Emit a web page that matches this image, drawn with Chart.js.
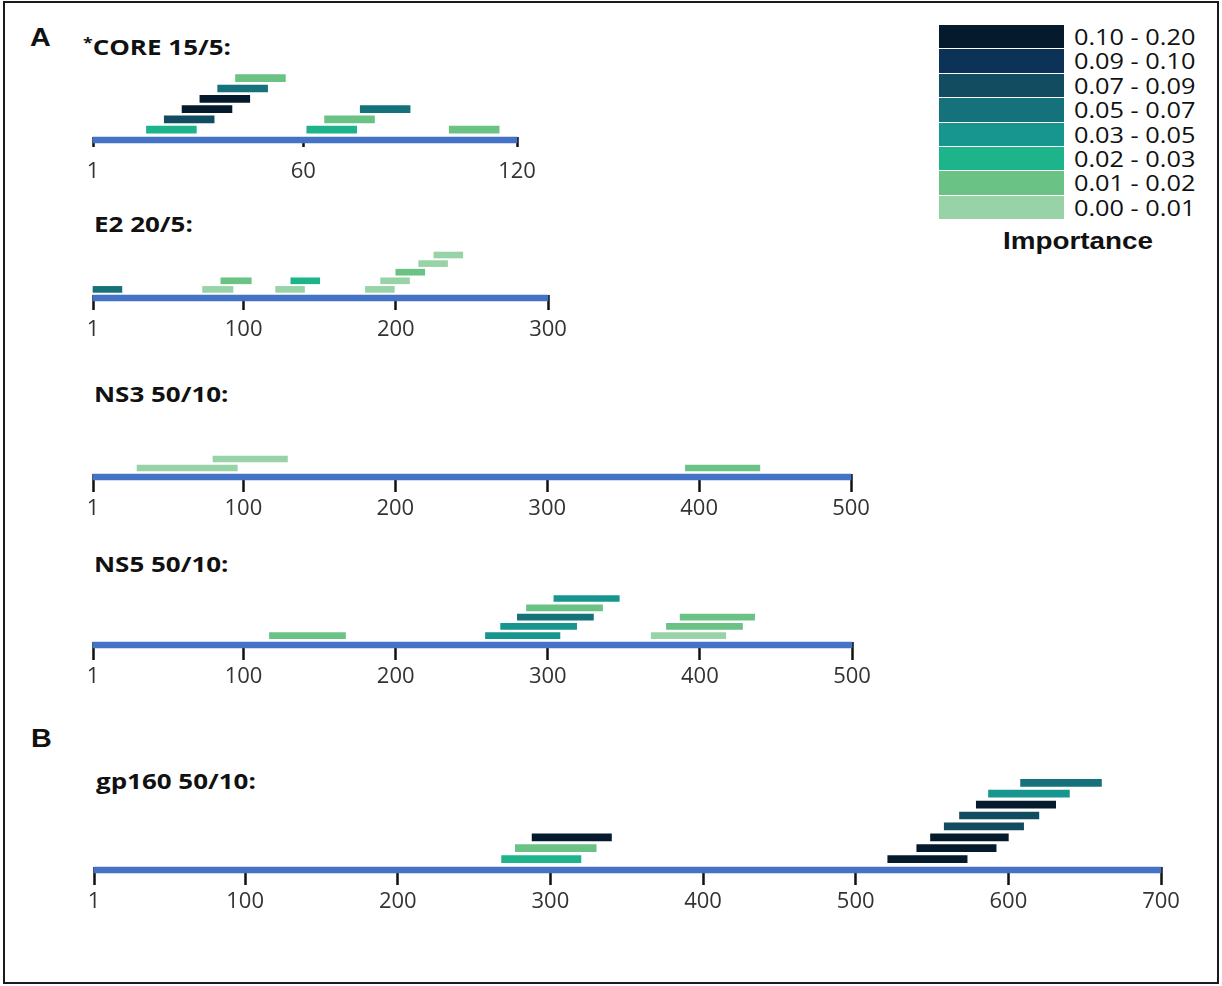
<!DOCTYPE html>
<html>
<head>
<meta charset="utf-8">
<script src="https://cdn.jsdelivr.net/npm/chart.js@4.4.1/dist/chart.umd.min.js"></script>
<style>
  body { margin: 0; background: #fff; }
  #fig { position: relative; width: 1222px; height: 986px; overflow: hidden; }
  #frame { position: absolute; left: 3px; top: 1px; width: 1216px; height: 983px; box-sizing: border-box; border: 2px solid #1a1a1a; }
  .txt { position: absolute; line-height: 1; white-space: nowrap; transform-origin: 0 0; color: #111; }
  .letter { font-family: "Liberation Sans", Arial, sans-serif; font-weight: bold; font-size: 25px; transform: scaleX(1.15); }
  .title { font-family: "Open Sans", sans-serif; font-weight: bold; font-size: 22px; transform: scaleX(1.18); }
  .title .star { font-size: 15px; position: relative; top: -7px; }
  .leg { font-family: "Open Sans", sans-serif; font-size: 22px; transform: scaleX(1.15); }
  .imp { font-family: "Liberation Sans", Arial, sans-serif; font-weight: bold; font-size: 23px; width: 200px; text-align: center; transform-origin: 50% 0; transform: scaleX(1.21); }
  .box { position: absolute; }
  .panel { position: absolute; }
</style>
</head>
<body>
<div id="fig">
  <div id="frame"></div>
</div>
<script>
// importance bins of the colour key (lowest first)
var binEdges = [0.00, 0.01, 0.02, 0.03, 0.05, 0.07, 0.09, 0.10, 0.20];
var binColors = ['#97d3a7', '#6ac284', '#1db38b', '#17958f', '#15727a', '#124c60', '#0c3257', '#061a2d'];

// CORE 15/5
var coreTicks = [1, 60, 120];
var coreWindows = [[16, 30], [61, 75], [101, 115], [21, 35], [66, 80], [26, 40], [76, 90], [31, 45], [36, 50], [41, 55]];
var coreLevels = [0, 0, 0, 1, 1, 2, 2, 3, 4, 5];
var coreImportance = [0.025, 0.025, 0.015, 0.08, 0.015, 0.15, 0.06, 0.15, 0.06, 0.015];

// E2 20/5
var e2Ticks = [1, 100, 200, 300];
var e2Windows = [[1, 20], [73, 93], [121, 140], [180, 199], [85, 105], [131, 150], [190, 209], [200, 219], [215, 234], [225, 244]];
var e2Levels = [0, 0, 0, 0, 1, 1, 1, 2, 3, 4];
var e2Importance = [0.06, 0.005, 0.005, 0.005, 0.015, 0.025, 0.005, 0.015, 0.005, 0.005];

// NS3 50/10
var ns3Ticks = [1, 100, 200, 300, 400, 500];
var ns3Windows = [[30, 96], [391, 440], [80, 129]];
var ns3Levels = [0, 0, 1];
var ns3Importance = [0.005, 0.015, 0.005];

// NS5 50/10
var ns5Ticks = [1, 100, 200, 300, 400, 500];
var ns5Windows = [[117, 167], [259, 308], [368, 417], [269, 319], [378, 428], [280, 330], [387, 436], [286, 336], [304, 347]];
var ns5Levels = [0, 0, 0, 1, 1, 2, 2, 3, 4];
var ns5Importance = [0.015, 0.04, 0.005, 0.04, 0.015, 0.06, 0.015, 0.015, 0.04];

// gp160 50/10
var gpTicks = [1, 100, 200, 300, 400, 500, 600, 700];
var gpWindows = [[268, 320], [277, 330], [288, 340], [521, 573], [540, 592], [549, 600], [558, 610], [568, 620], [579, 631], [587, 640], [608, 661]];
var gpLevels = [0, 1, 2, 0, 1, 2, 3, 4, 5, 6, 7];
var gpImportance = [0.025, 0.015, 0.15, 0.15, 0.15, 0.15, 0.08, 0.08, 0.15, 0.04, 0.06];

var fig = document.getElementById('fig');

function addText(cls, html, left, y) {
  var el = document.createElement('div');
  el.className = 'txt ' + cls;
  el.innerHTML = html;
  el.style.left = left + 'px';
  el.style.top = y + 'px';
  fig.appendChild(el);
  return el;
}

function binColor(v) {
  for (var i = binEdges.length - 2; i >= 0; i--) {
    if (v >= binEdges[i]) return binColors[i];
  }
  return binColors[0];
}

/* panel letters and titles (top = baseline - ascent) */
addText('letter', 'A', 30, 46 - 21);
addText('letter', 'B', 31, 747 - 21);
addText('title', '<span class="star">*</span>CORE 15/5:', 83, 54 - 19.5);
addText('title', 'E2 20/5:', 94, 231 - 19.5);
addText('title', 'NS3 50/10:', 94, 401 - 19.5);
addText('title', 'NS5 50/10:', 94, 571 - 19.5);
addText('title', 'gp160 50/10:', 96, 788 - 19.5);

/* colour key, highest bin on top */
var pitch = 24.375;
for (var k = 0; k < binColors.length; k++) {
  var b = binColors.length - 1 - k;
  var boxTop = 25 + k * pitch;
  var box = document.createElement('div');
  box.className = 'box';
  box.style.left = '939px';
  box.style.top = boxTop + 'px';
  box.style.width = '125px';
  box.style.height = '23.4px';
  box.style.background = binColors[b];
  fig.appendChild(box);
  var label = binEdges[b].toFixed(2) + ' - ' + binEdges[b + 1].toFixed(2);
  addText('leg', label, 1074, boxTop + 11.7 + 7.9 - 19.5);
}
addText('imp', 'Importance', 978, 249 - 19.5);

/* one Chart.js chart per protein */
function makePanel(p) {
  var padX = 40, axisBox = 60;
  var rowsUp = Math.max.apply(null, p.levels) + 2;
  var areaH = Math.round(p.step * rowsUp);
  var chartBottom = p.axisY - 3;
  var wrap = document.createElement('div');
  wrap.className = 'panel';
  wrap.style.left = (p.left - padX) + 'px';
  wrap.style.top = (chartBottom - areaH) + 'px';
  wrap.style.width = (p.right - p.left + 2 * padX) + 'px';
  wrap.style.height = (areaH + axisBox) + 'px';
  var canvas = document.createElement('canvas');
  wrap.appendChild(canvas);
  fig.appendChild(wrap);

  var yMin = 3 / p.step;
  var bars = p.windows.map(function (w, i) { return {x: w, y: p.levels[i] + 1}; });

  new Chart(canvas, {
    type: 'bar',
    data: {
      datasets: [
        { data: [{x: [1, p.length], y: 0}], backgroundColor: '#4472c4', barThickness: 6, grouped: false, clip: false },
        { data: bars, backgroundColor: p.importance.map(binColor), barThickness: p.bar, grouped: false, clip: false }
      ]
    },
    options: {
      indexAxis: 'y',
      responsive: true,
      maintainAspectRatio: false,
      animation: false,
      layout: { padding: { left: padX, right: padX, top: 0, bottom: 0 } },
      plugins: { legend: { display: false }, tooltip: { enabled: false } },
      scales: {
        y: { type: 'linear', display: false, offset: false, min: yMin, max: yMin + areaH / p.step },
        x: {
          type: 'linear', min: 1, max: p.length, bounds: 'data', beginAtZero: false, z: 1,
          afterBuildTicks: function (axis) {
            axis.ticks = p.ticks.map(function (v) { return {value: v}; });
          },
          afterFit: function (axis) { axis.height = axisBox; },
          border: { display: false },
          grid: { drawOnChartArea: false, tickLength: p.tick, tickWidth: 2.5, tickColor: '#111' },
          ticks: {
            autoSkip: false, maxRotation: 0, padding: 22 - p.tick, color: '#333',
            font: { family: 'Open Sans', size: 22 }
          }
        }
      }
    }
  });
}

makePanel({ windows: coreWindows, levels: coreLevels, importance: coreImportance, ticks: coreTicks, length: 120,
  left: 93, right: 517, axisY: 140, step: 10.3, bar: 7, tick: 10 });
makePanel({ windows: e2Windows, levels: e2Levels, importance: e2Importance, ticks: e2Ticks, length: 300,
  left: 93, right: 548, axisY: 298, step: 8.6, bar: 6, tick: 15 });
makePanel({ windows: ns3Windows, levels: ns3Levels, importance: ns3Importance, ticks: ns3Ticks, length: 500,
  left: 93, right: 851, axisY: 477, step: 9, bar: 6, tick: 18 });
makePanel({ windows: ns5Windows, levels: ns5Levels, importance: ns5Importance, ticks: ns5Ticks, length: 500,
  left: 93, right: 852, axisY: 645, step: 9.3, bar: 6, tick: 18 });
makePanel({ windows: gpWindows, levels: gpLevels, importance: gpImportance, ticks: gpTicks, length: 700,
  left: 94, right: 1161, axisY: 870, step: 10.9, bar: 7, tick: 18 });
</script>
</body>
</html>
